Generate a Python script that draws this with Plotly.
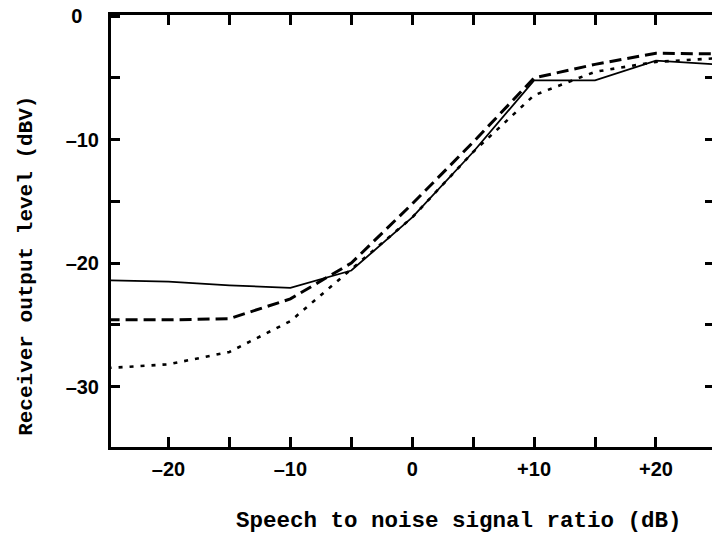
import plotly.graph_objects as go

# Speech-to-noise ratio (dB) at which the receiver output was measured
snr_db = [-25, -20, -15, -10, -5, 0, 5, 10, 15, 20, 25]

# Receiver output level (dBV) for the three test conditions
level_solid = [-21.4, -21.5, -21.8, -22.0, -20.6, -16.3, -11.0, -5.2, -5.2, -3.6, -3.9]
level_dashed = [-24.6, -24.6, -24.5, -22.9, -20.0, -15.2, -10.2, -5.0, -3.9, -3.0, -3.05]
level_dotted = [-28.5, -28.2, -27.2, -24.7, -20.5, -16.3, -11.0, -6.4, -4.5, -3.7, -3.4]

# Axis ticks and labels
x_tick_vals = [-20, -15, -10, -5, 0, 5, 10, 15, 20]
x_tick_text = ["\u201320", "", "\u201310", "", "0", "", "+10", "", "+20"]
y_tick_vals = [0, -5, -10, -15, -20, -25, -30]
y_tick_text = ["0\u00a0\u00a0\u00a0", "", "\u201310", "", "\u201320", "", "\u201330"]
y_right_ticks = [-5, -10, -15, -20, -25, -30]

x_title = "Speech to noise signal ratio (dB)"
y_title = "Receiver output level (dBV)"

tick_font = dict(family="Liberation Sans", size=20, color="black", weight="bold")
title_font = dict(family="Liberation Mono", size=22.5, color="black", weight="bold")

fig = go.Figure()
fig.add_trace(go.Scatter(x=snr_db, y=level_solid, mode="lines",
                         line=dict(color="black", width=1.8), showlegend=False))
fig.add_trace(go.Scatter(x=snr_db, y=level_dashed, mode="lines",
                         line=dict(color="black", width=3, dash="12px,6px"), showlegend=False))
fig.add_trace(go.Scatter(x=snr_db, y=level_dotted, mode="lines",
                         line=dict(color="black", width=2.6, dash="4px,7px"), showlegend=False))
# carrier for the right-hand tick axis
fig.add_trace(go.Scatter(x=[None], y=[None], yaxis="y2", showlegend=False, hoverinfo="skip"))

fig.update_layout(
    width=712, height=540,
    margin=dict(l=111, r=0, t=15, b=93),
    paper_bgcolor="white", plot_bgcolor="white",
    xaxis=dict(
        range=[-24.72, 24.6], tickvals=x_tick_vals, ticktext=x_tick_text,
        ticks="inside", ticklen=10, tickwidth=3, tickcolor="black",
        showline=True, linewidth=3, linecolor="black", mirror="ticks",
        showgrid=False, zeroline=False, tickfont=tick_font, ticklabelstandoff=2,
    ),
    yaxis=dict(
        range=[-34.9, 0.1], tickvals=y_tick_vals, ticktext=y_tick_text,
        ticks="inside", ticklen=9, tickwidth=3, tickcolor="black",
        showline=True, linewidth=3, linecolor="black",
        showgrid=False, zeroline=False, tickfont=tick_font, ticklabelstandoff=5,
    ),
    yaxis2=dict(
        overlaying="y", side="right", range=[-34.9, 0.1], tickvals=y_right_ticks,
        ticks="inside", ticklen=7, tickwidth=3, tickcolor="black",
        showticklabels=False, showline=False, showgrid=False, zeroline=False,
    ),
    annotations=[
        dict(text=x_title, xref="paper", yref="paper", x=0.579, y=-0.171,
             xanchor="center", yanchor="middle", showarrow=False, font=title_font),
        dict(text=y_title, xref="paper", yref="paper", x=-0.14, y=0.419,
             xanchor="center", yanchor="middle", textangle=-90, showarrow=False,
             font=dict(family="Liberation Mono", size=21, color="black", weight="bold")),
    ],
)

fig.write_html("out.html")
